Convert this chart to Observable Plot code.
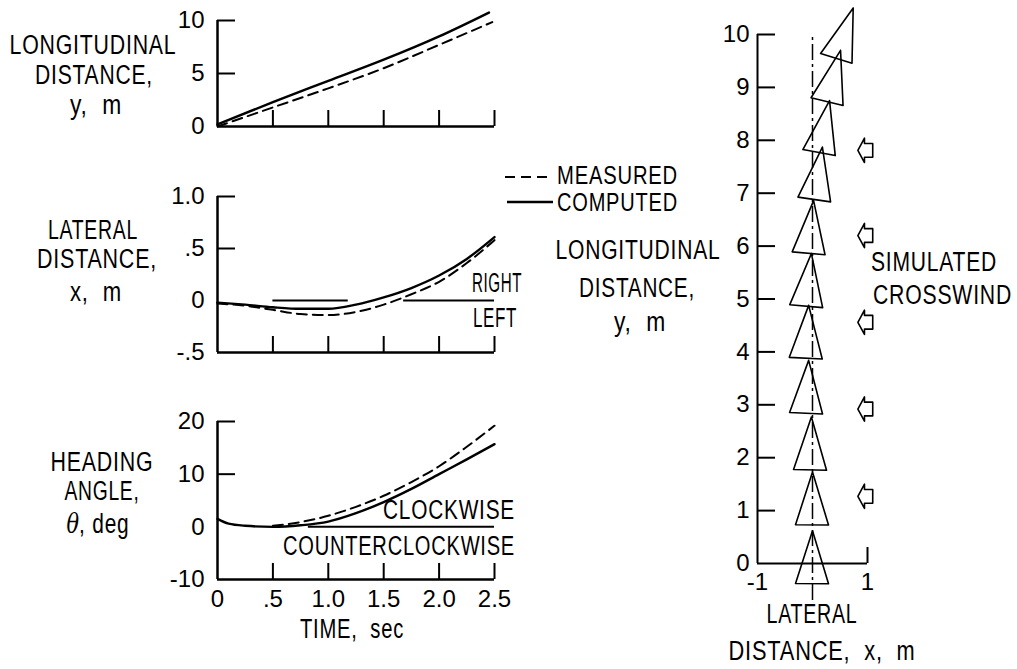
<!DOCTYPE html>
<html><head><meta charset="utf-8">
<script src="https://cdn.jsdelivr.net/npm/d3@7"></script>
<script src="https://cdn.jsdelivr.net/npm/@observablehq/plot@0.6"></script>
<style>
body{margin:0;background:#fff}
#fig{position:relative;width:1017px;height:669px;overflow:hidden;background:#fff;
 font-family:"Liberation Sans",Arial,sans-serif;color:#000}
#fig svg{position:absolute;left:0;top:0}
.lbl{position:absolute;white-space:nowrap;font-size:27px;line-height:0.85;letter-spacing:1px}
</style></head><body><div id="fig"></div>
<script>
// ---------------- DATA ----------------
// Longitudinal distance y (m) vs time (s)
const timeLongComp = [0, 0.5, 1.0, 1.5, 2.0, 2.45];
const longComputed = [0.2, 2.3, 4.3, 6.3, 8.5, 10.75];
const timeLongMeas = [0, 0.5, 1.0, 1.5, 2.0, 2.48];
const longMeasured = [0, 1.8, 3.6, 5.5, 7.7, 9.85];

// Lateral distance x (m) vs time (s)
const timeLat = [0, 0.25, 0.5, 0.75, 1.0, 1.25, 1.5, 1.75, 2.0, 2.25, 2.5];
const latComputed = [-0.02, -0.04, -0.065, -0.08, -0.08, -0.04, 0.03, 0.12, 0.24, 0.40, 0.61];
const latMeasured = [-0.03, -0.05, -0.09, -0.13, -0.14, -0.11, -0.04, 0.06, 0.18, 0.36, 0.58];
const latRefStart = [0.5, 1.68];
const latRefEnd = [1.18, 2.5];

// Heading angle theta (deg) vs time (s)
const timeHeadComp = [0, 0.1, 0.25, 0.5, 0.75, 1.0, 1.25, 1.5, 1.75, 2.0, 2.25, 2.5];
const headComputed = [1.5, 0.6, 0.2, 0, 0.3, 1.0, 2.6, 4.7, 7.2, 10.0, 12.8, 15.7];
const timeHeadMeas = [0.5, 0.75, 1.0, 1.25, 1.5, 1.75, 2.0, 2.25, 2.5];
const headMeasured = [0.2, 0.9, 2.1, 3.8, 5.9, 8.5, 11.5, 15.2, 19.2];
const headRefStart = [0.82];
const headRefEnd = [2.5];

// Track plot: vehicle outline nose position (m) and heading (deg)
const noseX = [0, 0, -0.02, -0.07, -0.07, -0.02, 0.02, 0.18, 0.31, 0.51, 0.74];
const noseY = [0.62, 1.73, 2.77, 3.84, 4.88, 5.86, 6.86, 7.87, 8.75, 9.70, 10.50];
const noseHeading = [0.5, 0.5, 1.4, 2.7, 3.0, 5.4, 5.2, 8.5, 11.0, 14.2, 17.9];
// Simulated crosswind arrows (lateral position, longitudinal positions)
const windX = 0.965;
const windY = [1.27, 2.92, 4.56, 6.20, 7.81];

// Tick values / labels
const timeTicks = [0, 0.5, 1.0, 1.5, 2.0, 2.5];
const timeTickLabels = ["0", ".5", "1.0", "1.5", "2.0", "2.5"];
const longTicks = [0, 5, 10];
const latTicks = [-0.5, 0, 0.5, 1.0];
const latTickLabels = ["-.5", "0", ".5", "1.0"];
const headTicks = [-10, 0, 10, 20];
const trackYTicks = [0,1,2,3,4,5,6,7,8,9,10];
const trackXTicks = [-1, 1];
const trackXTickLabels = ["-1", "1"];

// ---------------- LAYOUT ----------------
const W = 1017, H = 669;
const FONT = '"Liberation Sans",Arial,sans-serif';
const fig = document.getElementById("fig");
const style = {background:"transparent", fontFamily: FONT, fontSize:"24px", color:"black", overflow:"visible"};
const pts = (xs, ys) => xs.map((x, i) => ({x, y: ys[i]}));
const SW = 2.4;
const DASH = "10,6";

function timePanel({top, bottom, ydomain, yticks, yfmt, innerTicks, comp, meas, refs, xlabels}) {
  const left = 217, right = 494;
  const fw = right - left, fh = bottom - top;
  const marks = [
    Plot.ruleX([0], {stroke:"black", strokeWidth:2.5}),
    Plot.ruleY([ydomain[0]], {stroke:"black", strokeWidth:2.5}),
    Plot.tickY(innerTicks, {y: d => d, stroke:"black", strokeWidth:2, insetRight: fw - 18}),
    Plot.tickX(timeTicks.slice(1), {x: d => d, stroke:"black", strokeWidth:2, insetTop: fh - 16}),
    Plot.axisY(yticks, {tickSize:0, tickPadding:13, tickFormat: yfmt, fontSize:24, label:null}),
    Plot.line(meas, {x:"x", y:"y", stroke:"black", strokeWidth:2, strokeDasharray:DASH, curve:"monotone-x"}),
    Plot.line(comp, {x:"x", y:"y", stroke:"black", strokeWidth:SW, curve:"monotone-x"})
  ];
  if (refs) marks.push(Plot.ruleY(refs, {y: () => 0, x1:"s", x2:"e", stroke:"black", strokeWidth:2}));
  if (xlabels) marks.push(Plot.axisX(timeTicks, {tickSize:0, tickPadding:10, fontSize:24, label:null,
      tickFormat: d => timeTickLabels[timeTicks.indexOf(d)]}));
  return Plot.plot({
    width:W, height:H, style,
    marginLeft:left, marginRight:W-right, marginTop:top, marginBottom:H-bottom,
    x:{domain:[0,2.5], axis:null}, y:{domain:ydomain, axis:null},
    marks
  });
}

const p1 = timePanel({
  top:20, bottom:126, ydomain:[0,10], yticks:longTicks, yfmt: d => String(d), innerTicks:[5,10],
  comp: pts(timeLongComp, longComputed), meas: pts(timeLongMeas, longMeasured)
});
const p2 = timePanel({
  top:196, bottom:352, ydomain:[-0.5,1], yticks:latTicks,
  yfmt: d => latTickLabels[latTicks.indexOf(d)], innerTicks:[0.5,1],
  comp: pts(timeLat, latComputed), meas: pts(timeLat, latMeasured),
  refs: latRefStart.map((s,i) => ({s, e: latRefEnd[i]}))
});
const p3 = timePanel({
  top:421, bottom:579, ydomain:[-10,20], yticks:headTicks, yfmt: d => String(d), innerTicks:[10,20],
  comp: pts(timeHeadComp, headComputed), meas: pts(timeHeadMeas, headMeasured),
  refs: headRefStart.map((s,i) => ({s, e: headRefEnd[i]})), xlabels:true
});

// Track plot
const L = 1.0, HW = 0.3;
const tri = [];
noseX.forEach((ax, i) => {
  const ay = noseY[i], th = noseHeading[i] * Math.PI / 180;
  const s = Math.sin(th), c = Math.cos(th);
  const bx = ax - L*s, by = ay - L*c;
  const p = [[ax, ay], [bx + HW*c, by - HW*s], [bx - HW*c, by + HW*s], [ax, ay]];
  p.forEach(([x,y]) => tri.push({id:i, x, y}));
});
const arrowShape = [[-0.14,0],[-0.02,0.23],[-0.02,0.13],[0.13,0.13],[0.13,-0.13],[-0.02,-0.13],[-0.02,-0.23],[-0.14,0]];
const arrows = [];
windY.forEach((wy, i) => arrowShape.forEach(([dx,dy]) => arrows.push({id:i, x: windX + dx, y: wy + dy})));

const tl = 757, tr = 867, tt = 34, tb = 563;
const p4 = Plot.plot({
  width:W, height:H, style,
  marginLeft:tl, marginRight:W-tr, marginTop:tt, marginBottom:H-tb,
  x:{domain:[-1,1], axis:null}, y:{domain:[0,10], axis:null},
  marks:[
    Plot.ruleX([-1], {stroke:"black", strokeWidth:2}),
    Plot.ruleY([0], {stroke:"black", strokeWidth:2}),
    Plot.tickY(trackYTicks.slice(1), {y: d => d, stroke:"black", strokeWidth:2, insetRight:(tr-tl)-18}),
    Plot.tickX([1], {x: d => d, stroke:"black", strokeWidth:2, insetTop:(tb-tt)-16}),
    Plot.axisY(trackYTicks, {tickSize:0, tickPadding:8, fontSize:24, label:null, tickFormat: d => String(d)}),
    Plot.axisX(trackXTicks, {tickSize:0, tickPadding:9, fontSize:24, label:null,
      tickFormat: d => trackXTickLabels[trackXTicks.indexOf(d)]}),
    Plot.ruleX([0], {y1:-0.7, y2:10, stroke:"black", strokeWidth:1.5, strokeDasharray:"16,4,3,4"}),
    Plot.line(tri, {x:"x", y:"y", z:"id", stroke:"black", strokeWidth:1.6}),
    Plot.line(arrows, {x:"x", y:"y", z:"id", stroke:"black", strokeWidth:1.6})
  ]
});

[p1,p2,p3,p4].forEach(p => fig.appendChild(p));

// ---------------- TEXT LABELS ----------------
// anchor: "c" centre, "l" left edge, "r" right edge; w: target width in px
function label(text, x, y, anchor, w, fs) {
  const d = document.createElement("div");
  d.className = "lbl";
  d.innerHTML = text;
  if (fs) d.style.fontSize = fs + "px";
  d.style.left = "0px"; d.style.top = "0px";
  fig.appendChild(d);
  const nat = d.getBoundingClientRect().width;
  const k = w ? w / nat : 0.8;
  const origin = anchor === "l" ? "left center" : anchor === "r" ? "right center" : "center center";
  const tx = anchor === "l" ? "0" : anchor === "r" ? "-100%" : "-50%";
  d.style.left = x + "px"; d.style.top = y + "px";
  d.style.transformOrigin = origin;
  d.style.transform = `translate(${tx},-50%) scaleX(${k})`;
}
label("LONGITUDINAL", 93, 45, "c", 167); label("DISTANCE,", 94, 75, "c", 118); label("y,&nbsp;&nbsp;m", 96, 105, "c", 52);
label("LATERAL", 93, 230, "c", 90); label("DISTANCE,", 97, 259, "c", 120); label("x,&nbsp;&nbsp;m", 96, 292, "c", 52);
label("HEADING", 102, 462, "c", 103); label("ANGLE,", 102, 491, "c", 75);
label('<i style="font-family:\'DejaVu Serif\',serif;letter-spacing:0">θ</i>,&nbsp;deg', 98, 524, "c", 63);
label("RIGHT", 472, 283, "l", 50); label("LEFT", 473, 318, "l", 44);
label("CLOCKWISE", 515, 510, "r", 132); label("COUNTERCLOCKWISE", 515, 546, "r", 232);
label("TIME,&nbsp;&nbsp;sec", 352, 629, "c", 104);
label("MEASURED", 557, 176, "l", 121, 25); label("COMPUTED", 557, 203, "l", 121, 25);
label("LONGITUDINAL", 638, 250, "c", 165); label("DISTANCE,", 637, 288, "c", 116); label("y,&nbsp;&nbsp;m", 640, 322, "c", 52);
label("SIMULATED", 871, 262, "l", 126); label("CROSSWIND", 873, 295, "l", 139);
label("LATERAL", 812, 614, "c", 91); label("DISTANCE,&nbsp;&nbsp;x,&nbsp;&nbsp;m", 822, 651, "c", 187);

// legend swatches
const ns = "http://www.w3.org/2000/svg";
const sw = document.createElementNS(ns, "svg");
sw.setAttribute("width", W); sw.setAttribute("height", H);
[[505, 177, DASH, 2], [507, 202, null, SW]].forEach(([x1, y, dash, w]) => {
  const ln = document.createElementNS(ns, "line");
  ln.setAttribute("x1", x1); ln.setAttribute("x2", 553); ln.setAttribute("y1", y); ln.setAttribute("y2", y);
  ln.setAttribute("stroke", "black"); ln.setAttribute("stroke-width", w);
  if (dash) ln.setAttribute("stroke-dasharray", dash);
  sw.appendChild(ln);
});
fig.appendChild(sw);
</script></body></html>
